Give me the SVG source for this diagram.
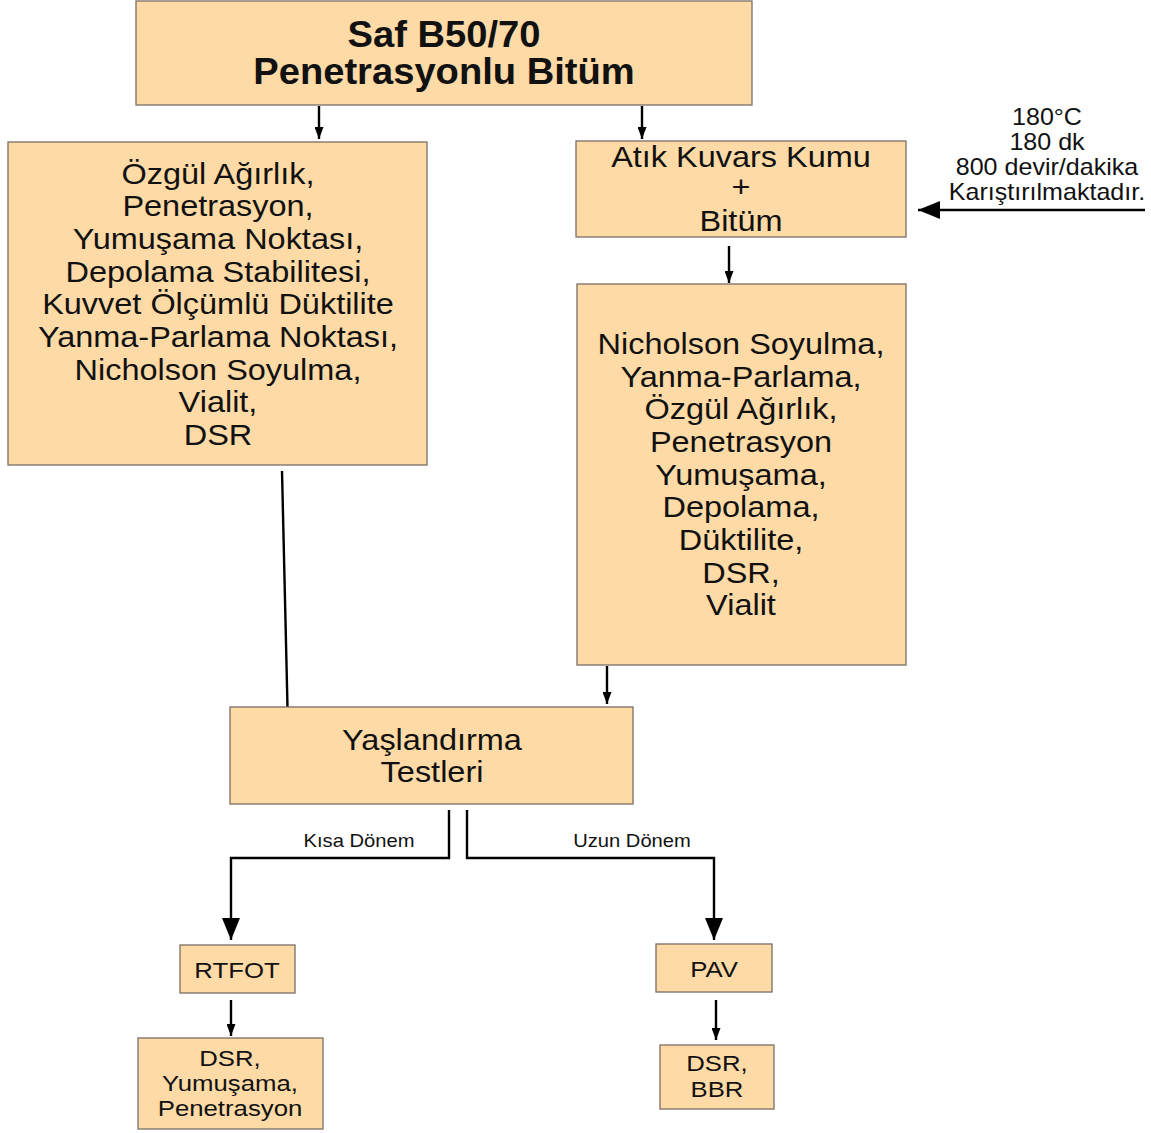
<svg xmlns="http://www.w3.org/2000/svg" width="1151" height="1133" viewBox="0 0 1151 1133">
<style>
.box{fill:#fddaa6;stroke:#7a6f63;stroke-width:1.3}
.t{font-family:"Liberation Sans",Arial,sans-serif;fill:#111;text-anchor:middle}
.b{font-weight:bold;font-size:36px}
.l{font-size:29px}
.m{font-size:23px}
.s{font-size:18px}
.c{stroke:#000;stroke-width:2.4;fill:none}
</style>
<defs>
<marker id="ah" viewBox="0 0 12 9" refX="12" refY="4.5" markerWidth="12" markerHeight="9" markerUnits="userSpaceOnUse" orient="auto"><path d="M0,0 L12,4.5 L0,9 z" fill="#000"/></marker>
<marker id="ahb" viewBox="0 0 22 18" refX="22" refY="9" markerWidth="22" markerHeight="18" markerUnits="userSpaceOnUse" orient="auto"><path d="M0,0 L22,9 L0,18 z" fill="#000"/></marker>
</defs>
<g id="connectors">
<line class="c" x1="319" y1="106" x2="319" y2="139" marker-end="url(#ah)"/>
<line class="c" x1="642" y1="106" x2="642" y2="139" marker-end="url(#ah)"/>
<line class="c" x1="1145" y1="210" x2="918" y2="210" marker-end="url(#ahb)" stroke-width="2.8"/>
<line class="c" x1="729" y1="246" x2="729" y2="283" marker-end="url(#ah)"/>
<line class="c" x1="607" y1="666" x2="607" y2="704" marker-end="url(#ah)"/>
<line class="c" x1="282" y1="471" x2="287.5" y2="707" stroke-width="2.8"/>
<polyline class="c" points="449,810 449,858 231,858 231,940" marker-end="url(#ahb)"/>
<polyline class="c" points="467,810 467,858 714,858 714,940" marker-end="url(#ahb)"/>
<line class="c" x1="231" y1="1000" x2="231" y2="1036" marker-end="url(#ah)"/>
<line class="c" x1="716" y1="1000" x2="716" y2="1040" marker-end="url(#ah)"/>
<g transform="translate(359 0) scale(1.12 1)"><text class="t s" x="0" y="847">Kısa Dönem</text></g>
<g transform="translate(632 0) scale(1.12 1)"><text class="t s" x="0" y="847">Uzun Dönem</text></g>
</g>
<g id="top">
<rect class="box" x="136" y="1" width="616" height="104"/>
<g transform="translate(444 0) scale(1.06 1)">
<text class="t b" x="0" y="47">Saf B50/70</text>
<text class="t b" x="0" y="84">Penetrasyonlu Bitüm</text>
</g>
</g>
<g id="left">
<rect class="box" x="8" y="142" width="419" height="323"/>
<g transform="translate(218 0) scale(1.12 1)">
<text class="t l" x="0" y="184">Özgül Ağırlık,</text>
<text class="t l" x="0" y="216">Penetrasyon,</text>
<text class="t l" x="0" y="249">Yumuşama Noktası,</text>
<text class="t l" x="0" y="282">Depolama Stabilitesi,</text>
<text class="t l" x="0" y="314">Kuvvet Ölçümlü Düktilite</text>
<text class="t l" x="0" y="347">Yanma-Parlama Noktası,</text>
<text class="t l" x="0" y="380">Nicholson Soyulma,</text>
<text class="t l" x="0" y="412">Vialit,</text>
<text class="t l" x="0" y="445">DSR</text>
</g>
</g>
<g id="atik">
<rect class="box" x="576" y="141" width="330" height="96"/>
<g transform="translate(741 0) scale(1.12 1)">
<text class="t l" x="0" y="167">Atık Kuvars Kumu</text>
<text class="t l" x="0" y="197">+</text>
<text class="t l" x="0" y="231">Bitüm</text>
</g>
</g>
<g id="cond">
<g transform="translate(1047 0) scale(1.09 1)">
<text class="t m" x="0" y="125">180°C</text>
<text class="t m" x="0" y="150">180 dk</text>
<text class="t m" x="0" y="175">800 devir/dakika</text>
<text class="t m" x="0" y="200">Karıştırılmaktadır.</text>
</g>
</g>
<g id="right">
<rect class="box" x="577" y="284" width="329" height="381"/>
<g transform="translate(741 0) scale(1.12 1)">
<text class="t l" x="0" y="354">Nicholson Soyulma,</text>
<text class="t l" x="0" y="387">Yanma-Parlama,</text>
<text class="t l" x="0" y="419">Özgül Ağırlık,</text>
<text class="t l" x="0" y="452">Penetrasyon</text>
<text class="t l" x="0" y="485">Yumuşama,</text>
<text class="t l" x="0" y="517">Depolama,</text>
<text class="t l" x="0" y="550">Düktilite,</text>
<text class="t l" x="0" y="583">DSR,</text>
<text class="t l" x="0" y="615">Vialit</text>
</g>
</g>
<g id="yaslandirma">
<rect class="box" x="230" y="707" width="403" height="97"/>
<g transform="translate(432 0) scale(1.12 1)">
<text class="t l" x="0" y="750">Yaşlandırma</text>
<text class="t l" x="0" y="782">Testleri</text>
</g>
</g>
<g id="rtfot">
<rect class="box" x="180" y="945" width="115" height="48"/>
<g transform="translate(237 0) scale(1.12 1)"><text class="t m" x="0" y="978">RTFOT</text></g>
</g>
<g id="pav">
<rect class="box" x="656" y="944" width="116" height="48"/>
<g transform="translate(714 0) scale(1.12 1)"><text class="t m" x="0" y="977">PAV</text></g>
</g>
<g id="res1">
<rect class="box" x="138" y="1038" width="185" height="91"/>
<g transform="translate(230 0) scale(1.12 1)">
<text class="t m" x="0" y="1066">DSR,</text>
<text class="t m" x="0" y="1091">Yumuşama,</text>
<text class="t m" x="0" y="1116">Penetrasyon</text>
</g>
</g>
<g id="res2">
<rect class="box" x="660" y="1045" width="114" height="64"/>
<g transform="translate(717 0) scale(1.12 1)">
<text class="t m" x="0" y="1071">DSR,</text>
<text class="t m" x="0" y="1097">BBR</text>
</g>
</g>
</svg>
